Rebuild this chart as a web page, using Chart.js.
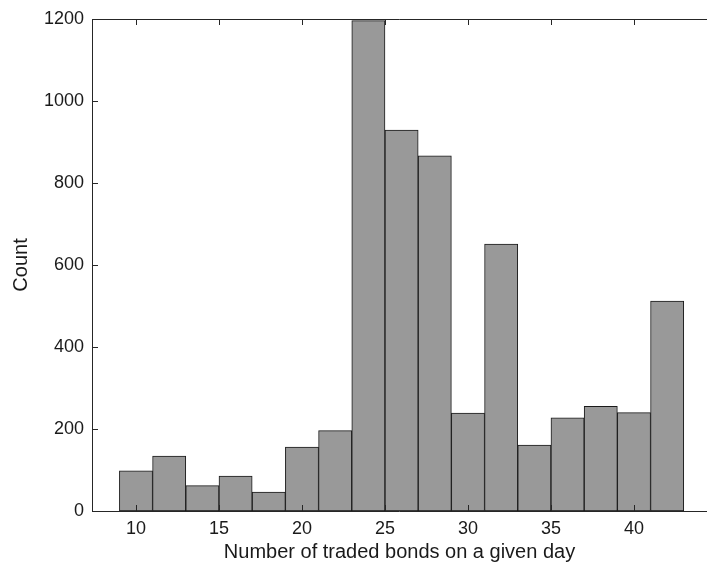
<!DOCTYPE html>
<html>
<head>
<meta charset="utf-8">
<script src="https://cdn.jsdelivr.net/npm/chart.js@4/dist/chart.umd.min.js"></script>
<style>
  html, body { margin: 0; padding: 0; background: #fff; }
  #wrap { width: 707px; height: 571px; }
</style>
</head>
<body>
<div id="wrap"><canvas id="histChart" width="707" height="571"></canvas></div>
<script>
// histogram bins (width 2, from 9 to 43)
const binCenters = [10, 12, 14, 16, 18, 20, 22, 24, 26, 28, 30, 32, 34, 36, 38, 40, 42];
const counts = [98, 134, 62, 85, 46, 156, 196, 1196, 929, 866, 239, 651, 161, 227, 255, 240, 512];

const xTicks = [10, 15, 20, 25, 30, 35, 40];
const yTicks = [0, 200, 400, 600, 800, 1000, 1200];

const axisColor = '#262626';
const fontFamily = '"Liberation Sans", Arial, sans-serif';

// MATLAB style frame + inward tick marks
const frameTicks = {
    id: 'frameTicks',
    afterDatasetsDraw(chart) {
        const ctx = chart.ctx;
        const a = chart.chartArea;
        const xs = chart.scales.x, ys = chart.scales.y;
        const len = 6;
        ctx.save();
        ctx.strokeStyle = axisColor;
        ctx.lineWidth = 1;
        ctx.beginPath();
        // frame: left, bottom, top (right side is cut off)
        ctx.moveTo(a.left + 0.5, a.top + 0.5);
        ctx.lineTo(a.left + 0.5, a.bottom + 0.5);
        ctx.lineTo(a.right, a.bottom + 0.5);
        ctx.moveTo(a.left + 0.5, a.top + 0.5);
        ctx.lineTo(a.right, a.top + 0.5);
        xTicks.forEach(v => {
            const px = Math.round(xs.getPixelForValue(v)) + 0.5;
            ctx.moveTo(px, a.bottom);
            ctx.lineTo(px, a.bottom - len);
            ctx.moveTo(px, a.top);
            ctx.lineTo(px, a.top + len);
        });
        yTicks.forEach(v => {
            const py = Math.round(ys.getPixelForValue(v)) + 0.5;
            ctx.moveTo(a.left, py);
            ctx.lineTo(a.left + len, py);
        });
        ctx.stroke();
        ctx.restore();
    }
};

const ctx = document.getElementById('histChart');
new Chart(ctx, {
    type: 'bar',
    data: {
        datasets: [{
            data: binCenters.map((c, i) => ({ x: c, y: counts[i] })),
            backgroundColor: '#999999',
            borderColor: '#1a1a1a',
            borderWidth: 1,
            borderSkipped: false,
            barPercentage: 1,
            categoryPercentage: 1
        }]
    },
    options: {
        responsive: false,
        animation: false,
        devicePixelRatio: 1,
        layout: { padding: { left: 0, top: 19, right: 0, bottom: 0 } },
        plugins: { legend: { display: false }, tooltip: { enabled: false } },
        scales: {
            x: {
                type: 'linear',
                min: 7.35,
                max: 44.4,
                offset: false,
                grid: { display: false, drawTicks: false },
                border: { display: false },
                ticks: {
                    stepSize: 5,
                    includeBounds: false,
                    maxRotation: 0,
                    autoSkip: false,
                    padding: 7,
                    color: '#1a1a1a',
                    font: { family: fontFamily, size: 18 }
                },
                title: {
                    display: true,
                    text: 'Number of traded bonds on a given day',
                    color: '#1a1a1a',
                    font: { family: fontFamily, size: 20 },
                    padding: { top: 0, bottom: 7 }
                },
                afterFit(scale) { scale.height = 60; }
            },
            y: {
                min: 0,
                max: 1200,
                grid: { display: false, drawTicks: false },
                border: { display: false },
                ticks: {
                    stepSize: 200,
                    padding: 8,
                    color: '#1a1a1a',
                    font: { family: fontFamily, size: 18 },
                    callback: v => String(v)
                },
                title: {
                    display: true,
                    text: 'Count',
                    color: '#1a1a1a',
                    font: { family: fontFamily, size: 20 },
                    padding: { top: 9, bottom: 0 }
                },
                afterFit(scale) { scale.width = 92; }
            }
        }
    },
    plugins: [frameTicks]
});
</script>
</body>
</html>
